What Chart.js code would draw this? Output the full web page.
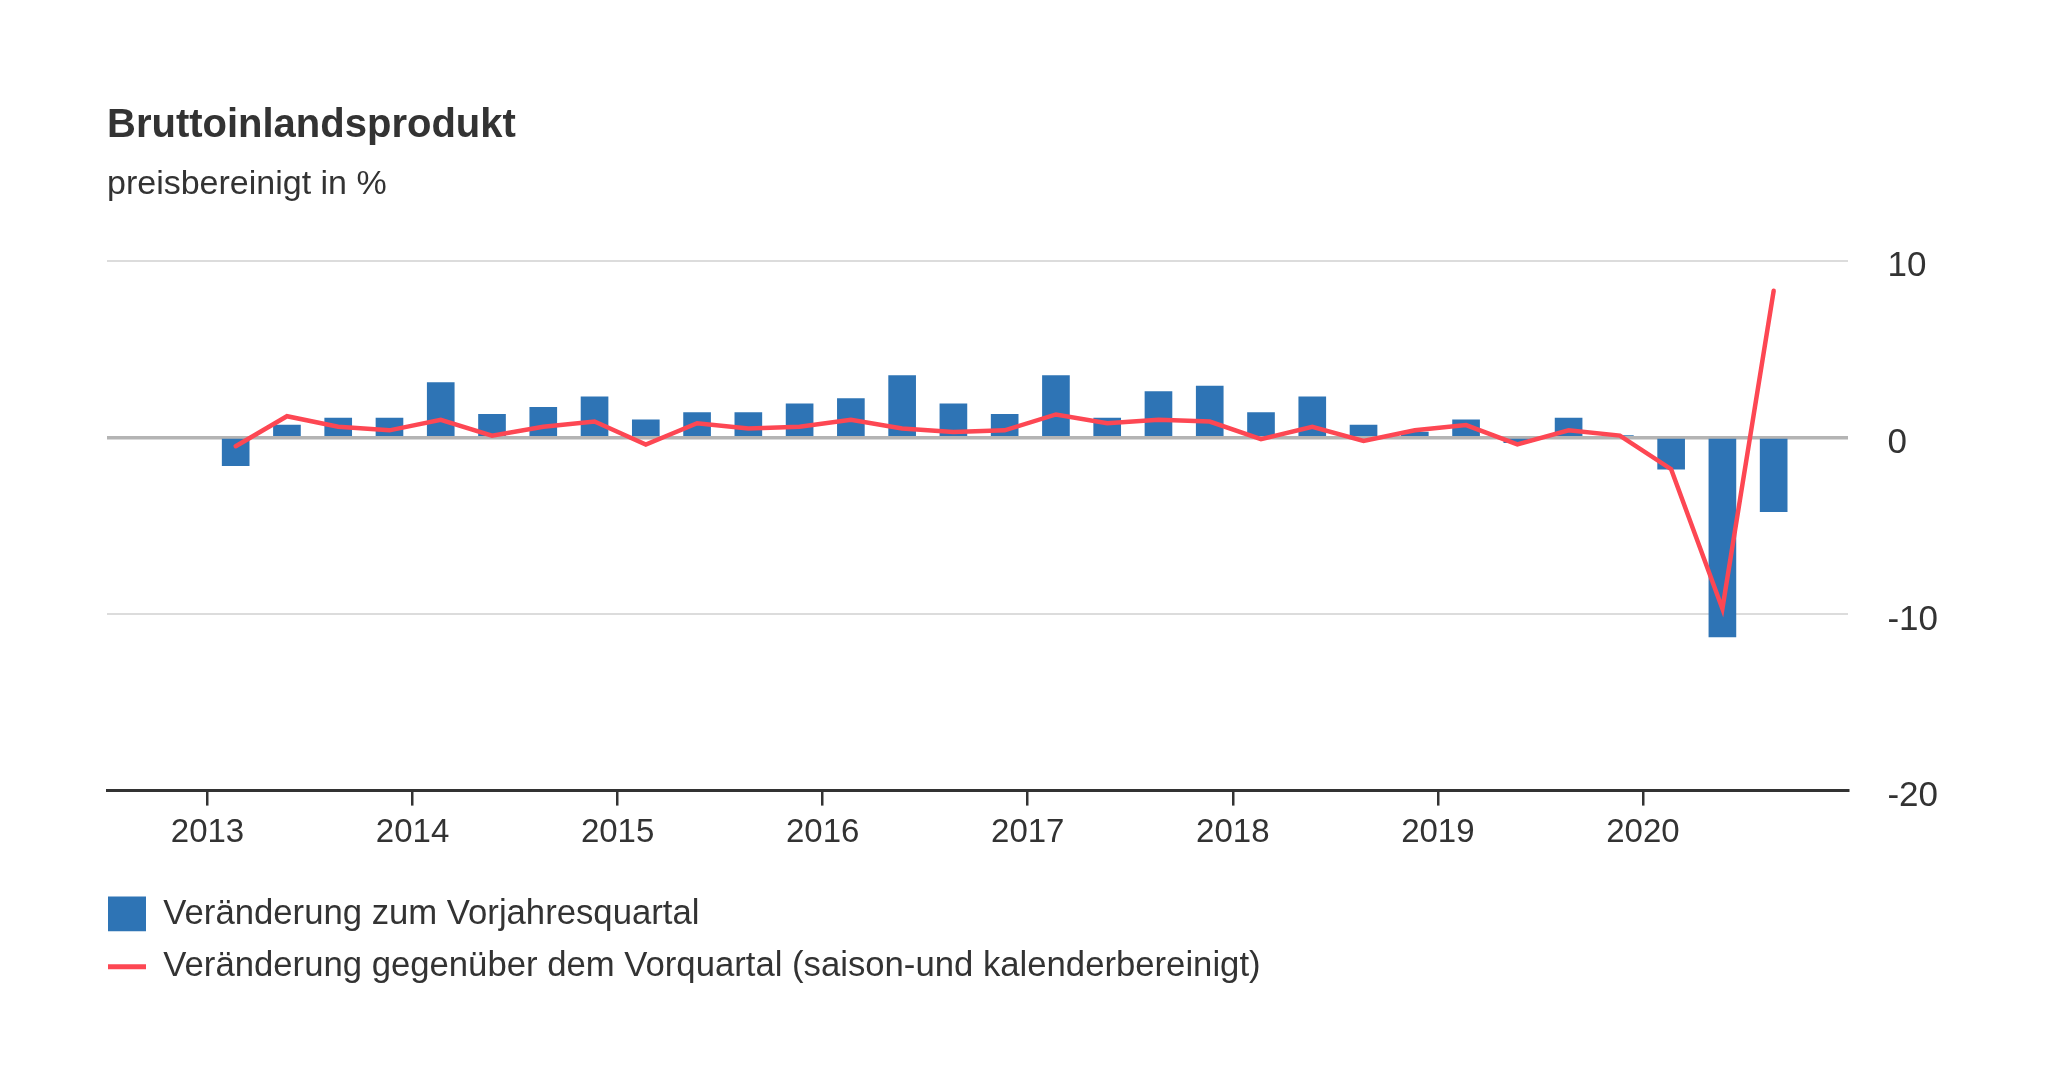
<!DOCTYPE html>
<html lang="de">
<head>
<meta charset="utf-8">
<title>Bruttoinlandsprodukt</title>
<script src="https://cdn.jsdelivr.net/npm/chart.js@4.4.1/dist/chart.umd.min.js"></script>
<style>
  html, body { margin: 0; padding: 0; background: #ffffff; }
  #chart { display: block; }
</style>
</head>
<body>
<canvas id="chart" width="2048" height="1092"></canvas>
<script>
// quarters shown, 2013 Q1 .. 2020 Q3
const quarters = [
  "2013 Q1", "2013 Q2", "2013 Q3", "2013 Q4",
  "2014 Q1", "2014 Q2", "2014 Q3", "2014 Q4",
  "2015 Q1", "2015 Q2", "2015 Q3", "2015 Q4",
  "2016 Q1", "2016 Q2", "2016 Q3", "2016 Q4",
  "2017 Q1", "2017 Q2", "2017 Q3", "2017 Q4",
  "2018 Q1", "2018 Q2", "2018 Q3", "2018 Q4",
  "2019 Q1", "2019 Q2", "2019 Q3", "2019 Q4",
  "2020 Q1", "2020 Q2", "2020 Q3"
];
// Veränderung zum Vorjahresquartal (bars)
const yoyValues = [
  -1.6, 0.7, 1.1, 1.1,
  3.1, 1.3, 1.7, 2.3,
  1.0, 1.4, 1.4, 1.9,
  2.2, 3.5, 1.9, 1.3,
  3.5, 1.1, 2.6, 2.9,
  1.4, 2.3, 0.7, 0.3,
  1.0, -0.3, 1.1, 0.1,
  -1.8, -11.3, -4.2
];
// Veränderung gegenüber dem Vorquartal (line)
const qoqValues = [
  -0.5, 1.2, 0.6, 0.4,
  1.0, 0.1, 0.6, 0.9,
  -0.4, 0.8, 0.5, 0.6,
  1.0, 0.5, 0.3, 0.4,
  1.3, 0.8, 1.0, 0.9,
  -0.1, 0.6, -0.2, 0.4,
  0.7, -0.4, 0.4, 0.1,
  -1.8, -9.7, 8.3
];
const yearTicks = [2013, 2014, 2015, 2016, 2017, 2018, 2019, 2020];
const yTicks = [10, 0, -10, -20];

const barColor = "#2e74b5";
const lineColor = "#fd4753";
const textColor = "#333333";

Chart.defaults.font.family = "'Liberation Sans', Arial, Helvetica, sans-serif";
Chart.defaults.color = textColor;

// bars sit in the middle of their quarter on a year axis
function quarterPos(label) {
  let parts = label.split(" Q");
  return Number(parts[0]) + (Number(parts[1]) - 0.45) / 4;
}

let barData = quarters.map((q, i) => ({ x: quarterPos(q), y: yoyValues[i] }));
let lineData = quarters.map((q, i) => ({ x: quarterPos(q), y: qoqValues[i] }));

let chart = new Chart("chart", {
  type: "bar",
  data: {
    datasets: [
      {
        type: "line",
        label: "Veränderung gegenüber dem Vorquartal (saison-und kalenderbereinigt)",
        data: lineData,
        borderColor: lineColor,
        backgroundColor: lineColor,
        borderWidth: 4.5,
        borderCapStyle: "round",
        pointRadius: 0,
        tension: 0,
        order: 0
      },
      {
        label: "Veränderung zum Vorjahresquartal",
        data: barData,
        backgroundColor: barColor,
        borderWidth: 0,
        barThickness: 27,
        order: 1
      }
    ]
  },
  options: {
    responsive: false,
    animation: false,
    // right padding keeps the legend narrow enough to wrap into two rows,
    // the y labels are painted into that space (mirror = no clipping)
    layout: { padding: { left: 90, right: 200, top: 60, bottom: 98 } },
    scales: {
      x: {
        type: "linear",
        min: 2012.51,
        max: 2021,
        offset: false,
        afterBuildTicks: (scale) => {
          scale.ticks = yearTicks.map((y) => ({ value: y }));
        },
        afterFit: (scale) => { scale.height = 88; },
        ticks: {
          font: { size: 33 },
          color: textColor,
          padding: 8,
          maxRotation: 0,
          autoSkip: false,
          callback: (v) => String(v)
        },
        grid: {
          offset: false,
          drawOnChartArea: false,
          drawTicks: true,
          tickLength: 15,
          color: "#333333",
          lineWidth: 2.5
        },
        border: { display: true, color: "#333333", width: 3 }
      },
      y: {
        position: "right",
        min: -20,
        max: 10,
        afterBuildTicks: (scale) => {
          scale.ticks = yTicks.map((v) => ({ value: v }));
        },
        afterFit: (scale) => { scale.width = 0; },
        ticks: {
          font: { size: 35 },
          color: textColor,
          mirror: true,
          crossAlign: "far",
          padding: 90,
          labelOffset: 6
        },
        grid: {
          drawTicks: false,
          color: (ctx) => {
            if (ctx.tick.value === 0) return "#b4b4b4";
            if (ctx.tick.value === -20) return "rgba(0,0,0,0)";
            return "#dcdcdc";
          },
          lineWidth: (ctx) => (ctx.tick.value === 0 ? 3.5 : 2)
        },
        border: { display: false }
      },
      // empty left axis, only keeps the plot away from the legend's left edge
      spacer: {
        type: "linear",
        position: "left",
        afterFit: (scale) => { scale.width = 17; },
        ticks: { display: false },
        grid: { display: false },
        border: { display: false }
      }
    },
    plugins: {
      title: {
        display: true,
        text: "Bruttoinlandsprodukt",
        align: "start",
        fullSize: false,
        color: textColor,
        font: { size: 40, weight: "bold" },
        padding: { top: 42, bottom: 0 }
      },
      subtitle: {
        display: true,
        text: "preisbereinigt in %",
        align: "start",
        fullSize: false,
        color: textColor,
        font: { size: 34 },
        padding: { top: 14, bottom: 56 }
      },
      legend: {
        display: true,
        position: "bottom",
        align: "start",
        reverse: true,
        labels: {
          usePointStyle: true,
          pointStyleWidth: 38,
          boxHeight: 35,
          padding: 18,
          color: textColor,
          font: { size: 34.7 },
          generateLabels: (chart) => {
            let items = Chart.defaults.plugins.legend.labels.generateLabels(chart);
            items.forEach((item) => {
              if (item.datasetIndex === 1) {
                item.pointStyle = "rect";
                item.lineWidth = 0;
              } else {
                item.pointStyle = "line";
                item.strokeStyle = lineColor;
                item.lineWidth = 5;
              }
            });
            return items;
          }
        }
      },
      tooltip: { enabled: false }
    }
  }
});
</script>
</body>
</html>
